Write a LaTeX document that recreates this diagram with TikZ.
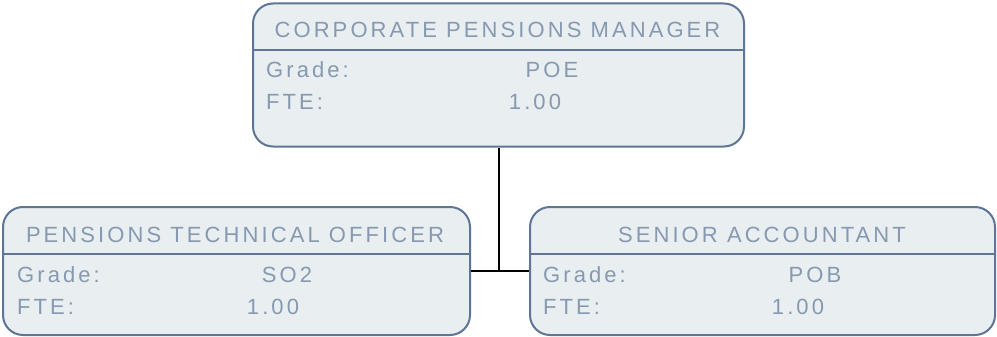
\documentclass[tikz,border=0pt]{standalone}
\usepackage{fontspec}
\setmainfont{Liberation Sans}[LetterSpace=14]
\definecolor{boxfill}{HTML}{E9EEF1}
\definecolor{boxdraw}{HTML}{5E7596}
\definecolor{txt}{HTML}{8699B1}
\begin{document}
\begin{tikzpicture}[x=1pt,y=-1pt,
  card/.style={draw=boxdraw,fill=boxfill,line width=2pt,rounded corners=20pt,inner sep=0pt},
  ttl/.style={text=txt,font=\fontsize{22}{22}\selectfont,inner sep=0pt,anchor=center},
  lbl/.style={text=txt,font=\fontsize{22}{22}\selectfont,inner sep=0pt,anchor=west},
  val/.style={text=txt,font=\fontsize{22}{22}\selectfont,inner sep=0pt,anchor=center},
  conn/.style={draw=black,line width=2pt}]
\useasboundingbox (0,0) rectangle (997,337);
% top box
\node[card,minimum width=491pt,minimum height=143pt] (top) at (498.5,75) {};
\draw[boxdraw,line width=2pt] (top.west |- 0,50) -- (top.east |- 0,50);
\node[ttl] (topt) at (497.5,29.5) {CORPORATE PENSIONS MANAGER};
\node[lbl] (topg) at (266,69.5) {Grade:};
\node[val] (topgv) at (552,69.5) {POE};
\node[lbl] (topf) at (266,102) {FTE:};
\node[val] (topfv) at (535,102) {1.00};
% left box
\node[card,minimum width=467pt,minimum height=128pt] (lft) at (236.5,271) {};
\draw[boxdraw,line width=2pt] (lft.west |- 0,254) -- (lft.east |- 0,254);
\node[ttl] (lftt) at (235,235) {PENSIONS TECHNICAL OFFICER};
\node[lbl] (lftg) at (17,274.5) {Grade:};
\node[val] (lftgv) at (287,274.5) {SO2};
\node[lbl] (lftf) at (17,307) {FTE:};
\node[val] (lftfv) at (273,307) {1.00};
% right box
\node[card,minimum width=465pt,minimum height=128pt] (rgt) at (762.5,271) {};
\draw[boxdraw,line width=2pt] (rgt.west |- 0,254) -- (rgt.east |- 0,254);
\node[ttl] (rgtt) at (762,235) {SENIOR ACCOUNTANT};
\node[lbl] (rgtg) at (543,274.5) {Grade:};
\node[val] (rgtgv) at (815,274.5) {POB};
\node[lbl] (rgtf) at (543,307) {FTE:};
\node[val] (rgtfv) at (798,307) {1.00};
% connectors
\coordinate (junc) at (499,271);
\draw[conn] (top.south -| junc) -- (junc);
\draw[conn] (lft.east |- junc) -- (rgt.west |- junc);
\end{tikzpicture}
\end{document}
